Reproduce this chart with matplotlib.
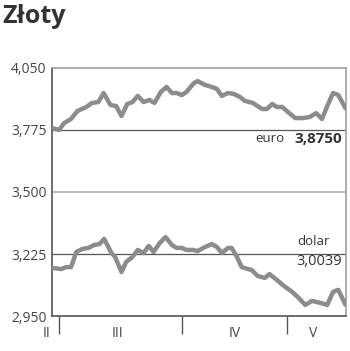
import matplotlib
matplotlib.use("Agg")
import matplotlib.pyplot as plt
import matplotlib.transforms as mtransforms

# Kurs euro i dolara (dni sesyjne od konca lutego)
euro_days = [0, 1.3, 2.3, 3.6, 4.8, 6.5, 7.6, 8.8, 9.8, 11.1, 12.2, 13.2, 14.3,
             15.3, 16.3, 17.4, 18.5, 19.5, 20.7, 21.8, 22.8, 23.7, 24.7, 25.6,
             27.0, 27.7, 29.1, 30.4, 31.4, 32.3, 33.5, 34.6, 35.8, 36.7, 38.2,
             40.0, 40.9, 41.9, 42.8, 43.8, 44.7, 46.3, 47.8, 49.1, 50.3, 51.4,
             52.4, 53.5, 54.5, 55.8]
euro_vals = [3.784, 3.775, 3.806, 3.824, 3.859, 3.877, 3.895, 3.899, 3.939,
             3.886, 3.881, 3.837, 3.890, 3.899, 3.926, 3.899, 3.908, 3.895,
             3.944, 3.966, 3.939, 3.939, 3.930, 3.944, 3.983, 3.992, 3.975,
             3.966, 3.957, 3.926, 3.939, 3.935, 3.921, 3.904, 3.895, 3.868,
             3.868, 3.890, 3.877, 3.877, 3.859, 3.828, 3.828, 3.833, 3.850,
             3.824, 3.881, 3.939, 3.930, 3.875]

usd_days = [0.2, 1.7, 2.7, 3.6, 4.6, 5.7, 6.9, 8.0, 9.0, 9.9, 11.3, 12.0, 13.2,
            14.1, 15.3, 16.3, 17.4, 18.4, 19.3, 20.5, 21.6, 22.8, 23.7, 24.7,
            25.6, 26.8, 27.7, 29.1, 30.4, 31.4, 32.3, 33.5, 34.2, 35.2, 36.1,
            37.3, 38.0, 39.2, 40.5, 41.4, 42.8, 43.9, 45.7, 46.8, 48.2, 49.5,
            51.1, 52.4, 53.5, 54.5, 55.8]
usd_vals = [3.163, 3.158, 3.167, 3.167, 3.234, 3.247, 3.252, 3.265, 3.269,
            3.292, 3.229, 3.212, 3.145, 3.190, 3.212, 3.243, 3.229, 3.261,
            3.234, 3.274, 3.300, 3.265, 3.252, 3.252, 3.243, 3.243, 3.238,
            3.256, 3.269, 3.256, 3.229, 3.252, 3.252, 3.212, 3.167, 3.158,
            3.154, 3.127, 3.119, 3.136, 3.110, 3.088, 3.057, 3.034, 2.999,
            3.017, 3.008, 2.999, 3.057, 3.066, 3.0039]

y_ticks = [2.950, 3.225, 3.500, 3.775, 4.050]
y_labels = ["2,950", "3,225", "3,500", "3,775", "4,050"]
month_starts = [1.3, 24.7, 44.7]
month_names = ["II", "III", "IV", "V"]
month_centers = [-1.1, 12.4, 34.8, 49.7]

plt.rcParams['font.family'] = ['Open Sans', 'DejaVu Sans']

fig = plt.figure(figsize=(3.5, 3.51), dpi=100)
ax = fig.add_axes([0.149, 0.0997, 0.840, 0.7066])

# Linie siatki
ax.axhline(3.775, color='#555555', lw=0.9, zorder=1)
ax.axhline(3.225, color='#555555', lw=0.9, zorder=1)
ax.axhline(3.500, color='#b0b0b0', lw=1.2, zorder=1)

ax.plot(euro_days, euro_vals, color='#8c8c8c', lw=3.2,
        solid_joinstyle='round', zorder=3)
ax.plot(usd_days, usd_vals, color='#8c8c8c', lw=3.2,
        solid_joinstyle='round', zorder=3)

ax.set_xlim(0, 56)
ax.set_ylim(2.950, 4.050)

ax.set_yticks(y_ticks)
ax.set_yticklabels(y_labels)
ax.tick_params(axis='y', length=0, pad=4, labelsize=10, labelcolor='#444444')

ax.set_xticks(month_starts)
ax.set_xticklabels([])
ax.tick_params(axis='x', length=13, width=1, color='#555555', direction='out')

trans = mtransforms.blended_transform_factory(ax.transData, ax.transAxes)
for xc, name in zip(month_centers, month_names):
    ax.text(xc, -0.072, name, transform=trans, ha='center', va='center',
            fontsize=10, color='#444444', clip_on=False)

ax.spines['left'].set_color('#555555')
ax.spines['bottom'].set_color('#555555')
ax.spines['top'].set_color('#a0a0a0')
ax.spines['right'].set_color('#a0a0a0')
for s in ax.spines.values():
    s.set_linewidth(1.2)

# Opisy serii
ax.text(0.985, 0.714, "3,8750", transform=ax.transAxes, ha='right',
        va='center', fontsize=11, fontweight='bold', color='#333333')
ax.text(0.79, 0.714, "euro", transform=ax.transAxes, ha='right',
        va='center', fontsize=9.5, color='#333333')
ax.text(0.833, 0.30, "dolar", transform=ax.transAxes, ha='left',
        va='center', fontsize=9.5, color='#333333')
ax.text(0.985, 0.218, "3,0039", transform=ax.transAxes, ha='right',
        va='center', fontsize=10.5, color='#333333')

fig.text(0.006, 0.952, "Złoty", ha='left', va='center', fontsize=18,
         fontweight='bold', color='#333333')

fig.savefig("out.png", dpi=100)
